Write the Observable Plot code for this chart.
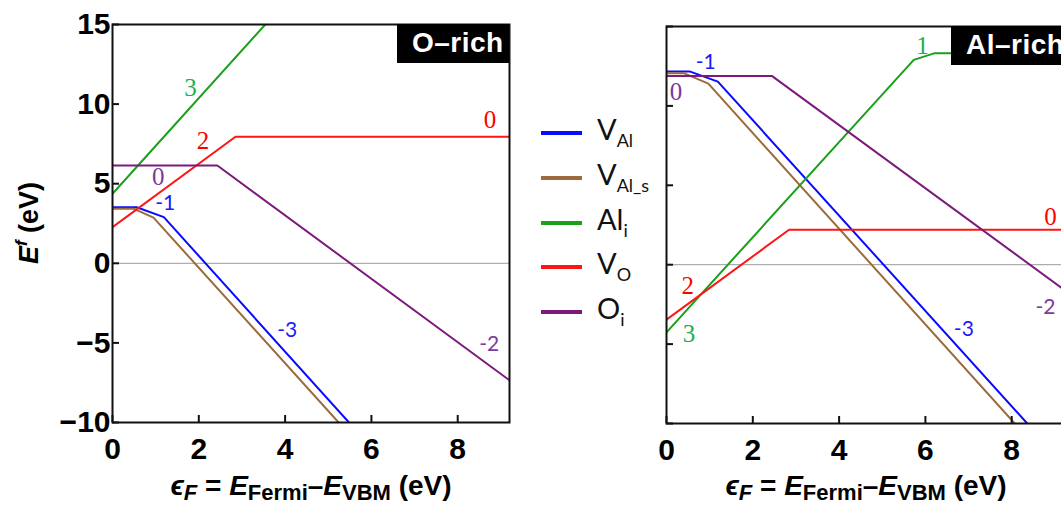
<!DOCTYPE html>
<html><head><meta charset="utf-8">
<script src="https://cdn.jsdelivr.net/npm/d3@7"></script>
<script src="https://cdn.jsdelivr.net/npm/@observablehq/plot@0.6"></script>
<style>
html,body{margin:0;padding:0;background:#fff;overflow:hidden;width:1061px;height:505px;}
#root{position:relative;width:1061px;height:505px;overflow:hidden;font-family:"Liberation Sans",Arial,sans-serif;}
.box{position:absolute;background:#000;color:#fff;font-weight:bold;font-size:28px;line-height:38px;height:39px;padding-left:15px;letter-spacing:0.5px;box-sizing:border-box;}
.xlab{position:absolute;width:500px;text-align:center;font-weight:bold;font-size:28px;line-height:30px;white-space:nowrap;}
.xlab i{font-style:italic;}
.xlab sub{font-size:22px;vertical-align:-5px;line-height:0;}
.ylab{position:absolute;font-weight:bold;font-size:27px;white-space:nowrap;transform:translate(-50%,-50%) rotate(-90deg);}
.ylab sup{font-size:17px;vertical-align:11px;font-style:italic;}
.leg{position:absolute;font-family:Lato,"Open Sans",sans-serif;font-size:29px;color:#111;white-space:nowrap;}
.leg sub{font-size:18px;vertical-align:-7px;}
.sw{position:absolute;height:4px;width:41px;}
</style></head><body><div id="root"></div>
<script>
// ---- axes ----
const xDomain = [0, 9.2];
const yDomain = [-10, 15];
const xTicks = [0, 2, 4, 6, 8];
const yTicks = [-10, -5, 0, 5, 10, 15];

// ---- series names & colours ----
const defectKeys = ["V_Al", "V_Al_s", "Al_i", "V_O", "O_i"];
const legendHtml = ["V<sub>Al</sub>", "V<sub>Al_s</sub>", "Al<sub>i</sub>", "V<sub>O</sub>", "O<sub>i</sub>"];
const lineColors = ["#0a0aff", "#9c6b3b", "#1aa01a", "#ff1414", "#7b1a7b"];
const labelColors = ["#1a1aff", "#9c6b3b", "#22b04a", "#ff0000", "#7a3a9e"];

// ---- O-rich panel (kink points) ----
const oRich_VAl_x  = [0, 0.56, 1.19, 5.48];
const oRich_VAl_y  = [3.52, 3.52, 2.90, -10];
const oRich_VAls_x = [0, 0.50, 0.95, 5.24];
const oRich_VAls_y = [3.42, 3.42, 2.87, -10];
const oRich_Ali_x  = [0, 3.54];
const oRich_Ali_y  = [4.37, 15];
const oRich_VO_x   = [0, 2.85, 9.2];
const oRich_VO_y   = [2.27, 7.95, 7.95];
const oRich_Oi_x   = [0, 2.43, 9.2];
const oRich_Oi_y   = [6.14, 6.14, -7.35];

// ---- Al-rich panel (kink points) ----
const alRich_VAl_x  = [0, 0.55, 1.19, 8.36];
const alRich_VAl_y  = [12.16, 12.16, 11.53, -10];
const alRich_VAls_x = [0, 0.40, 0.97, 8.07];
const alRich_VAls_y = [12.06, 12.06, 11.40, -10];
const alRich_Ali_x  = [0, 5.73, 6.20, 9.2];
const alRich_Ali_y  = [-4.26, 12.90, 13.31, 13.31];
const alRich_VO_x   = [0, 2.84, 9.2];
const alRich_VO_y   = [-3.46, 2.20, 2.20];
const alRich_Oi_x   = [0, 2.44, 9.2];
const alRich_Oi_y   = [11.89, 11.89, -1.55];

// ---- charge-state labels ----
const oRichLabelText   = ["3", "2", "0", "0", "-1", "-3", "-2"];
const oRichLabelX      = [1.81, 2.10, 8.75, 1.06, 1.22, 4.05, 8.73];
const oRichLabelY      = [11.0, 7.7, 9.0, 5.45, 3.75, -4.22, -5.06];
const oRichLabelDefect = ["Al_i", "V_O", "V_O", "O_i", "V_Al", "V_Al", "O_i"];

const alRichLabelText   = ["-1", "0", "1", "0", "2", "3", "-3", "-2"];
const alRichLabelX      = [0.91, 0.22, 5.93, 8.90, 0.49, 0.52, 6.89, 8.78];
const alRichLabelY      = [12.72, 10.9, 13.77, 3.02, -1.32, -4.36, -4.09, -2.68];
const alRichLabelDefect = ["V_Al", "O_i", "Al_i", "V_O", "V_O", "Al_i", "V_Al", "O_i"];

// ---- build tables ----
function rows(xs, ys, key) {
  const c = lineColors[defectKeys.indexOf(key)];
  return xs.map((x, i) => ({x, y: ys[i], key, color: c}));
}
function labels(t, xs, ys, ds) {
  return t.map((s, i) => ({text: s, x: xs[i], y: ys[i], color: labelColors[defectKeys.indexOf(ds[i])], neg: s.startsWith("-")}));
}
const oRichLines = [
  ...rows(oRich_VAl_x, oRich_VAl_y, "V_Al"),
  ...rows(oRich_VAls_x, oRich_VAls_y, "V_Al_s"),
  ...rows(oRich_Ali_x, oRich_Ali_y, "Al_i"),
  ...rows(oRich_VO_x, oRich_VO_y, "V_O"),
  ...rows(oRich_Oi_x, oRich_Oi_y, "O_i")
];
const alRichLines = [
  ...rows(alRich_VAl_x, alRich_VAl_y, "V_Al"),
  ...rows(alRich_VAls_x, alRich_VAls_y, "V_Al_s"),
  ...rows(alRich_Ali_x, alRich_Ali_y, "Al_i"),
  ...rows(alRich_VO_x, alRich_VO_y, "V_O"),
  ...rows(alRich_Oi_x, alRich_Oi_y, "O_i")
];
const oRichLabels = labels(oRichLabelText, oRichLabelX, oRichLabelY, oRichLabelDefect);
const alRichLabels = labels(alRichLabelText, alRichLabelX, alRichLabelY, alRichLabelDefect);

function panel(lines, labs, showY, opts) {
  return Plot.plot({
    ...opts,
    height: 505,
    x: {domain: xDomain, label: null},
    y: {domain: yDomain, label: null},
    color: {type: "identity"},
    style: {background: "transparent", fontFamily: "'Liberation Sans', Arial, sans-serif", overflow: "visible"},
    marks: [
      Plot.ruleY([0], {stroke: "#9a9a9a", strokeWidth: 1}),
      Plot.line(lines, {x: "x", y: "y", z: "key", stroke: "color", strokeWidth: 2, clip: true}),
      Plot.text(labs.filter(d => !d.neg), {x: "x", y: "y", text: "text", fill: "color", fontSize: 25, fontFamily: "'Liberation Serif', 'DejaVu Serif', serif"}),
      Plot.text(labs.filter(d => d.neg), {x: "x", y: "y", text: "text", fill: "color", fontSize: 21, fontFamily: "Lato, 'Open Sans', sans-serif"}),
      Plot.frame({stroke: "#111", strokeWidth: 2}),
      Plot.axisX({ticks: xTicks, tickSize: -7, tickPadding: 22, fontSize: 30, fontWeight: "bold", stroke: "#111", strokeWidth: 2, fill: "#000", label: null}),
      Plot.axisY({ticks: yTicks, tickSize: -7, tickPadding: 9, fontSize: 30, fontWeight: "bold", stroke: "#111", strokeWidth: 2, fill: "#000", label: null,
        tickFormat: showY ? undefined : () => ""})
    ]
  });
}

const root = document.getElementById("root");
function place(el, left, top) {
  el.style.position = "absolute"; el.style.left = left + "px"; el.style.top = top + "px";
  root.appendChild(el);
}

const left = panel(oRichLines, oRichLabels, true, {width: 520, marginLeft: 112, marginRight: 11, marginTop: 24, marginBottom: 83});
place(left, 0, 0);
const right = panel(alRichLines, alRichLabels, false, {width: 430, marginLeft: 26, marginRight: 7, marginTop: 26, marginBottom: 82});
place(right, 640, 0);

// panel titles
function box(text, l, t, w) {
  const d = document.createElement("div"); d.className = "box"; d.textContent = text;
  d.style.left = l + "px"; d.style.top = t + "px"; d.style.width = w + "px";
  root.appendChild(d);
}
box("O\u2013rich", 397, 24, 112);
box("Al\u2013rich", 951, 26, 120);

// axis titles
function html(cls, inner, l, t) {
  const d = document.createElement("div"); d.className = cls; d.innerHTML = inner;
  d.style.left = l + "px"; d.style.top = t + "px"; root.appendChild(d); return d;
}
const xl = '<i>\u03f5<sub>F</sub></i> = <i>E</i><sub>Fermi</sub>\u2013<i>E</i><sub>VBM</sub> (eV)';
html("xlab", xl, 311 - 250, 471);
html("xlab", xl, 866 - 250, 471);
html("ylab", '<i>E</i><sup>f</sup> (eV)', 28, 223);

// legend
const legRowsY = [133, 178, 223, 267, 312];
defectKeys.forEach((k, i) => {
  const s = document.createElement("div"); s.className = "sw";
  s.style.left = "541px"; s.style.top = (legRowsY[i] - 2) + "px"; s.style.background = lineColors[i];
  root.appendChild(s);
  html("leg", legendHtml[i], 597, legRowsY[i] - 22);
});
</script>
</body></html>
